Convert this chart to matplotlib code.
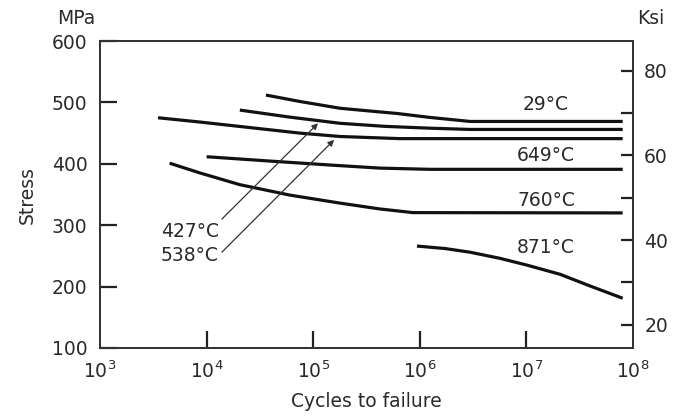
import numpy as np
import matplotlib
matplotlib.use("Agg")
import matplotlib.pyplot as plt
from matplotlib.ticker import FixedLocator, NullFormatter

plt.rcParams['font.family'] = ['DejaVu Sans']
plt.rcParams['mathtext.default'] = 'regular'

# Fatigue curves, stress (MPa) vs cycles to failure
c29_n = [3.6e4, 7.5e4, 1.78e5, 3.4e5, 6.1e5, 1.25e6, 2.96e6, 8.0e7]
c29_s = [512, 501.5, 490.5, 486, 482, 475.5, 469, 469]

c427_n = [2.05e4, 6.05e4, 1.78e5, 4.7e5, 1.25e6, 2.96e6, 8.0e7]
c427_s = [487.5, 476, 466, 461, 458, 456, 456]

c538_n = [3.5e3, 8.7e3, 2.55e4, 7.5e4, 1.78e5, 6.5e5, 8.0e7]
c538_s = [475, 468, 459, 450, 444.5, 441, 441]

c649_n = [1.0e4, 3.9e4, 1.44e5, 4.2e5, 1.25e6, 8.0e7]
c649_s = [411.5, 404.5, 398, 393, 391, 391]

c760_n = [4.5e3, 8.7e3, 2.05e4, 6.05e4, 1.78e5, 4.2e5, 8.6e5, 8.0e7]
c760_s = [401, 385, 366, 349, 336, 326.5, 320.5, 320]

c871_n = [9.4e5, 1.72e6, 2.96e6, 5.65e6, 1.01e7, 2.07e7, 3.95e7, 8.0e7]
c871_s = [266, 262, 256, 246, 235, 220, 201, 181]

curves = [(c29_n, c29_s), (c427_n, c427_s), (c538_n, c538_s),
          (c649_n, c649_s), (c760_n, c760_s), (c871_n, c871_s)]

# labels (text, x, y)
right_labels = [("29°C", 1.53e7, 496), ("649°C", 1.53e7, 414),
                ("760°C", 1.53e7, 341), ("871°C", 1.53e7, 263)]
arrow_labels = [("427°C", 1.3e4, 290, 1.39e4, 310, 1.11e5, 466),
                ("538°C", 1.3e4, 251, 1.39e4, 256, 1.57e5, 439)]

x_ticks = [1e3, 1e4, 1e5, 1e6, 1e7, 1e8]
x_ticklabels = ["$10^{%d}$" % i for i in range(3, 9)]
mpa_ticks = [100, 200, 300, 400, 500, 600]
ksi_major = [20, 40, 60, 80]
ksi_minor = [30, 50, 70]
MPA_PER_KSI = 6.895

ink = '#2a2a2a'
fs = 13.5

fig = plt.figure(figsize=(6.73, 4.19), dpi=100)
ax = fig.add_axes([0.1486, 0.1695, 0.792, 0.7326])

for n, s in curves:
    ax.plot(n, s, color='#111111', lw=2.3, solid_capstyle='butt',
            solid_joinstyle='round')

for txt, x, y in right_labels:
    ax.text(x, y, txt, ha='center', va='center', fontsize=fs, color=ink)

for txt, tx, ty, x0, y0, x1, y1 in arrow_labels:
    ax.text(tx, ty, txt, ha='right', va='center', fontsize=fs, color=ink)
    ax.annotate('', xy=(x1, y1), xytext=(x0, y0),
                arrowprops=dict(arrowstyle='-|>', color='#333333', lw=0.9,
                                mutation_scale=9, shrinkA=0, shrinkB=0))

ax.set_xscale('log')
ax.set_xlim(1e3, 1e8)
ax.set_ylim(100, 600)
ax.xaxis.set_major_locator(FixedLocator(x_ticks))
ax.set_xticklabels(x_ticklabels)
ax.xaxis.set_minor_locator(FixedLocator([]))
ax.set_yticks(mpa_ticks)

for sp in ax.spines.values():
    sp.set_linewidth(1.3)
    sp.set_color('#333333')

ax.tick_params(axis='both', direction='in', length=12, width=1.6,
               color='#222222', labelsize=fs, labelcolor=ink, pad=9)
ax.tick_params(top=False, right=False)
# no tick marks at the corners
for t in [ax.xaxis.get_major_ticks()[0], ax.xaxis.get_major_ticks()[-1],
          ax.yaxis.get_major_ticks()[0], ax.yaxis.get_major_ticks()[-1]]:
    t.tick1line.set_visible(False)

ax2 = ax.twinx()
ax2.set_ylim(100 / MPA_PER_KSI, 600 / MPA_PER_KSI)
ax2.yaxis.set_major_locator(FixedLocator(ksi_major))
ax2.yaxis.set_minor_locator(FixedLocator(ksi_minor))
ax2.yaxis.set_minor_formatter(NullFormatter())
ax2.tick_params(axis='y', which='both', direction='in', length=9, width=1.6,
                color='#222222', labelsize=fs, labelcolor=ink, pad=8)
for sp in ax2.spines.values():
    sp.set_linewidth(1.3)
    sp.set_color('#333333')

fig.text(76 / 673, 1 - 18 / 419, "MPa", ha='center', va='center', fontsize=fs, color=ink)
fig.text(651 / 673, 1 - 19 / 419, "Ksi", ha='center', va='center', fontsize=fs, color=ink)
fig.text(27 / 673, 1 - 195 / 419, "Stress", ha='center', va='center', rotation=90,
         fontsize=fs, color=ink)
fig.text(366 / 673, 1 - 401 / 419, "Cycles to failure", ha='center', va='center',
         fontsize=fs, color=ink)

fig.savefig('out.png', dpi=100)
